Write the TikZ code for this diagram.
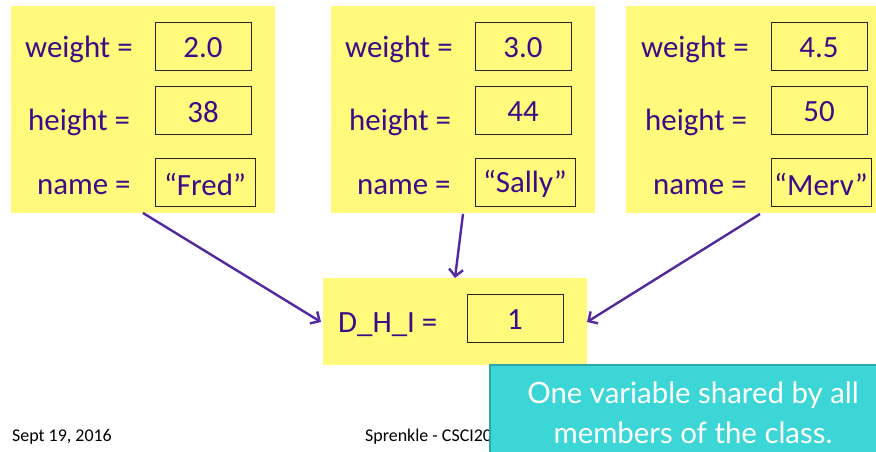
\documentclass[tikz,border=0pt]{standalone}
\usepackage{fontspec}
\setmainfont{Carlito}
\newfontfamily\notefont{Lato}
\usetikzlibrary{arrows.meta}
\definecolor{ylw}{HTML}{FFFA7C}
\definecolor{ink}{HTML}{3E0A87}
\definecolor{arr}{HTML}{5428A0}
\definecolor{teal1}{HTML}{3CD6D6}
\definecolor{teal2}{HTML}{2FA8A8}
\tikzset{
  objbox/.style={fill=ylw, draw=none, inner sep=0pt},
  valbox/.style={draw=black!85, line width=0.9bp, fill=ylw, inner sep=0pt, minimum height=48bp},
  vtxt/.style={text=ink, font=\fontsize{31}{33}\selectfont, inner sep=0pt, yshift=-2bp},
  lbl/.style={text=ink, font=\fontsize{31}{33}\selectfont, inner sep=0pt, anchor=base west},
  link/.style={draw=arr, line width=2.4bp, -{Straight Barb[length=7bp,width=14bp,line width=2.4bp]}},
  foot/.style={anchor=base west, inner sep=0pt, font=\fontsize{18}{20}\selectfont},
}
\begin{document}
\begin{tikzpicture}[x=1bp,y=-1bp]
\useasboundingbox (0,0) rectangle (876,452);
\fill[white] (0,0) rectangle (876,452);
% object boxes
\node[objbox, minimum width=264bp, minimum height=207bp] (o1) at (143,109.5) {};
\node[objbox, minimum width=264bp, minimum height=207bp] (o2) at (463,109.5) {};
\node[objbox, minimum width=252bp, minimum height=207bp] (o3) at (752,109.5) {};
\node[objbox, minimum width=264bp, minimum height=87bp] (c) at (455,321.5) {};
% value boxes
\node[valbox, minimum width=96bp, label={[vtxt]center:2.0}] (w1) at (203,46) {};
\node[valbox, minimum width=96bp, label={[vtxt]center:38}] (h1) at (203,110) {};
\node[valbox, minimum width=100bp, label={[vtxt]center:“Fred”}] (n1) at (205,182) {};
\node[valbox, minimum width=96bp, label={[vtxt]center:3.0}] (w2) at (523,46) {};
\node[valbox, minimum width=96bp, label={[vtxt]center:44}] (h2) at (523,110) {};
\node[valbox, minimum width=100bp, label={[vtxt]center:“Sally”}] (n2) at (525,182) {};
\node[valbox, minimum width=96bp, label={[vtxt]center:4.5}] (w3) at (819,46) {};
\node[valbox, minimum width=96bp, label={[vtxt]center:50}] (h3) at (819,110) {};
\node[valbox, minimum width=100bp, label={[vtxt]center:“Merv”}] (n3) at (821,182) {};
\node[valbox, minimum width=96bp, label={[vtxt]center:1}] (v) at (515,318) {};
% labels
\node[lbl] (lw1) at (25,58) {weight =};
\node[lbl] (lh1) at (28,131) {height =};
\node[lbl] (ln1) at (37,195) {name =};
\node[lbl] (lw2) at (345,58) {weight =};
\node[lbl] (lh2) at (349,131) {height =};
\node[lbl] (ln2) at (357,195) {name =};
\node[lbl] (lw3) at (641,58) {weight =};
\node[lbl] (lh3) at (645,131) {height =};
\node[lbl] (ln3) at (653,195) {name =};
\node[lbl] (lc) at (338,333) {D\_H\_I =};
% connectors
\coordinate (s1) at (143,213);
\coordinate (s2) at (463,214);
\coordinate (s3) at (760,214);
\coordinate (t1) at (321,322);
\coordinate (t2) at (455,278);
\coordinate (t3) at (587,322);
\draw[link] (s1) -- (t1);
\draw[link] (s2) -- (t2);
\draw[link] (s3) -- (t3);
% footer
\node[foot] (date) at (12,441) {Sept 19, 2016};
\node[foot] (auth) at (365,441) {Sprenkle - CSCI209};
% note
\node[fill=teal1, draw=teal2, line width=1.5bp, minimum width=400bp, minimum height=90bp, inner sep=0pt] (note) at (690,410) {};
\node[text=white, font=\notefont\fontsize{29.5}{40}\selectfont, align=center, inner sep=0pt] (notetext) at (693,413) {One variable shared by all\\members of the class.};
\end{tikzpicture}
\end{document}
